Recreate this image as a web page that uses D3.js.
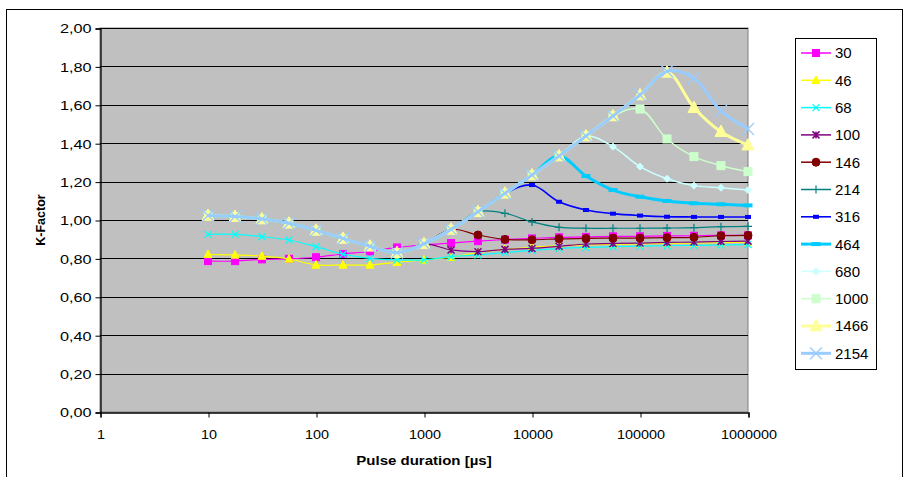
<!DOCTYPE html>
<html><head><meta charset="utf-8">
<script src="https://cdn.jsdelivr.net/npm/d3@7"></script>
<style>
body{margin:0;background:#fff;}
text{font-family:"Liberation Sans",Arial,sans-serif;}
</style></head>
<body>
<svg id="c" width="904" height="477"></svg>
<script>
// ---- data ----
const pulseDurations = [10, 17.8, 31.6, 56.2, 100, 178, 316, 562, 1000, 1780, 3160, 5620, 10000, 17800, 31600, 56200, 100000, 178000, 316000, 562000, 1000000];
const seriesNames = ["30","46","68","100","146","214","316","464","680","1000","1466","2154"];
const k30   = [0.786,0.786,0.795,0.798,0.806,0.823,0.836,0.857,0.870,0.880,0.890,0.898,0.904,0.910,0.912,0.915,0.915,0.917,0.918,0.920,0.920];
const k46   = [0.821,0.818,0.812,0.797,0.766,0.766,0.766,0.780,0.792,0.806,0.830,0.847,0.858,0.865,0.870,0.873,0.876,0.878,0.880,0.882,0.885];
const k68   = [0.925,0.925,0.913,0.896,0.861,0.822,0.800,0.792,0.792,0.809,0.818,0.830,0.842,0.851,0.857,0.861,0.864,0.866,0.868,0.870,0.872];
const k100  = [1.023,1.018,1.005,0.983,0.946,0.904,0.863,0.830,0.876,0.844,0.835,0.847,0.852,0.863,0.875,0.878,0.880,0.883,0.885,0.888,0.890];
const k146  = [1.023,1.018,1.005,0.983,0.946,0.904,0.863,0.830,0.876,0.951,0.922,0.899,0.897,0.902,0.904,0.906,0.906,0.908,0.910,0.918,0.920];
const k214  = [1.023,1.018,1.005,0.983,0.946,0.904,0.863,0.830,0.876,0.951,1.043,1.035,0.990,0.962,0.957,0.957,0.957,0.958,0.960,0.965,0.967];
const k316  = [1.023,1.018,1.005,0.983,0.946,0.904,0.863,0.830,0.876,0.951,1.043,1.139,1.182,1.095,1.052,1.033,1.023,1.017,1.016,1.016,1.016];
const k464  = [1.023,1.018,1.005,0.983,0.946,0.904,0.863,0.830,0.876,0.951,1.043,1.139,1.234,1.333,1.229,1.156,1.121,1.099,1.087,1.082,1.076];
const k680  = [1.023,1.018,1.005,0.983,0.946,0.904,0.863,0.830,0.876,0.951,1.043,1.139,1.234,1.333,1.4375,1.382,1.278,1.215,1.179,1.168,1.156];
const k1000 = [1.023,1.018,1.005,0.983,0.946,0.904,0.863,0.830,0.876,0.951,1.043,1.139,1.234,1.333,1.4375,1.542,1.578,1.422,1.330,1.283,1.252];
const k1466 = [1.023,1.018,1.005,0.983,0.946,0.904,0.863,0.830,0.876,0.951,1.043,1.139,1.234,1.333,1.4375,1.542,1.651,1.769,1.585,1.460,1.390];
const k2154 = [1.023,1.018,1.005,0.983,0.946,0.904,0.863,0.830,0.876,0.951,1.043,1.139,1.234,1.333,1.4375,1.542,1.651,1.775,1.738,1.568,1.474];
const xTickValues = [1,10,100,1000,10000,100000,1000000];
const yTickValues = [0,0.2,0.4,0.6,0.8,1.0,1.2,1.4,1.6,1.8,2.0];

const seriesValues = [k30,k46,k68,k100,k146,k214,k316,k464,k680,k1000,k1466,k2154];

// ---- styles ----
const styles = [
  {color:"#FF00FF", lw:1.2, mk:"square", ms:7},
  {color:"#FFFF00", lw:1.2, mk:"triangle", ms:8},
  {color:"#00FFFF", lw:1.2, mk:"x", ms:7},
  {color:"#800080", lw:1.2, mk:"star", ms:7},
  {color:"#800000", lw:1.2, mk:"circle", ms:8},
  {color:"#008080", lw:1.2, mk:"plus", ms:8},
  {color:"#0000FF", lw:1.6, mk:"dash", ms:6},
  {color:"#00CCFF", lw:3, mk:"dash", ms:9},
  {color:"#CCFFFF", lw:1.5, mk:"diamond", ms:7},
  {color:"#CCFFCC", lw:1.5, mk:"square", ms:8},
  {color:"#FFFF99", lw:3, mk:"triangle", ms:12},
  {color:"#99CCFF", lw:3, mk:"x", ms:12}
];

const svg = d3.select("#c");
const L=100, R=748, T=28, B=412;
const x = d3.scaleLog().domain([1,1000000]).range([L,R]);
const y = d3.scaleLinear().domain([0,2]).range([B,T]);

// outer chart border
svg.append("rect").attr("x",6.5).attr("y",9.5).attr("width",896).attr("height",480)
  .attr("fill","#fff").attr("stroke","#000").attr("stroke-width",1);

// plot area
svg.append("rect").attr("x",L).attr("y",T).attr("width",R-L).attr("height",B-T)
  .attr("fill","#C0C0C0").attr("stroke","#808080").attr("stroke-width",1);

// gridlines
svg.append("g").selectAll("line").data(yTickValues.filter(v=>v>0)).join("line")
  .attr("x1",L).attr("x2",R).attr("y1",d=>Math.round(y(d))+0.5).attr("y2",d=>Math.round(y(d))+0.5)
  .attr("stroke","#000").attr("stroke-width",1);

// axes
const yAxis = d3.axisLeft(y).tickValues(yTickValues).tickSize(5).tickFormat(d=>d3.format(".2f")(d).replace(".",","));
const gy = svg.append("g").attr("transform",`translate(${L+0.5},0.5)`).call(yAxis);
gy.select(".domain").attr("stroke","#000").attr("stroke-width",1.3);
gy.selectAll(".tick line").attr("stroke","#000");
gy.selectAll(".tick text").attr("font-size",12.5).attr("fill","#000").attr("x",null)
  .attr("transform","translate(-9,0) scale(1.3,1)").attr("dy","0.35em");

const xAxis = d3.axisBottom(x).tickValues(xTickValues).tickSize(5).tickFormat(d3.format("d"));
const gx = svg.append("g").attr("transform",`translate(0.5,${B+0.5})`).call(xAxis);
gx.select(".domain").attr("stroke","#000").attr("stroke-width",1.3);
gx.selectAll(".tick line").attr("stroke","#000");
gx.selectAll(".tick text").attr("font-size",12).attr("fill","#000").attr("y",null).attr("dy",null)
  .attr("transform","translate(0,26) scale(1.2,1)");

// axis titles
svg.append("text").attr("transform",`translate(${(L+R)/2},465) scale(1.25,1)`)
  .attr("text-anchor","middle").attr("font-size",12).attr("font-weight","bold").text("Pulse duration [µs]");
svg.append("text").attr("transform",`translate(45,${(T+B)/2}) rotate(-90)`)
  .attr("text-anchor","middle").attr("font-size",12.5).attr("font-weight","bold").text("K-Factor");

// marker drawing
function drawMarker(g, type, size, color){
  const h=size/2;
  if(type==="square"){ g.append("rect").attr("x",-h).attr("y",-h).attr("width",size).attr("height",size).attr("fill",color).attr("stroke",color); }
  else if(type==="triangle"){ g.append("path").attr("d",`M0,${-h*1.1}L${h},${h*0.8}L${-h},${h*0.8}Z`).attr("fill",color).attr("stroke",color); }
  else if(type==="x"){ g.append("path").attr("d",`M${-h},${-h}L${h},${h}M${-h},${h}L${h},${-h}`).attr("stroke",color).attr("stroke-width",1.3).attr("fill","none"); }
  else if(type==="star"){ g.append("path").attr("d",`M${-h},${-h}L${h},${h}M${-h},${h}L${h},${-h}M0,${-h}L0,${h}`).attr("stroke",color).attr("stroke-width",1.5).attr("fill","none"); }
  else if(type==="circle"){ g.append("circle").attr("r",h).attr("fill",color).attr("stroke",color); }
  else if(type==="plus"){ g.append("path").attr("d",`M${-h},0L${h},0M0,${-h}L0,${h}`).attr("stroke",color).attr("stroke-width",1.2).attr("fill","none"); }
  else if(type==="dash"){ g.append("rect").attr("x",-h).attr("y",-2).attr("width",size).attr("height",4).attr("fill",color); }
  else if(type==="diamond"){ g.append("path").attr("d",`M0,${-h}L${h},0L0,${h}L${-h},0Z`).attr("fill",color).attr("stroke",color); }
}

const line = d3.line().x(d=>x(d[0])).y(d=>y(d[1])).curve(d3.curveCatmullRom.alpha(0.5));

seriesValues.forEach((vals,i)=>{
  const st=styles[i];
  const pts = pulseDurations.map((p,j)=>[p,vals[j]]);
  const g = svg.append("g");
  g.append("path").attr("d",line(pts)).attr("fill","none").attr("stroke",st.color).attr("stroke-width",st.lw);
  pts.forEach(p=>{
    const m = g.append("g").attr("transform",`translate(${x(p[0])},${y(p[1])})`);
    drawMarker(m, st.mk, st.ms, st.color);
  });
});

// legend
const lg = svg.append("g");
lg.append("rect").attr("x",795.5).attr("y",38.5).attr("width",81).attr("height",331)
  .attr("fill","#fff").attr("stroke","#000").attr("stroke-width",1);
seriesNames.forEach((n,i)=>{
  const st=styles[i];
  const yy = 53 + i*27.3;
  lg.append("line").attr("x1",801).attr("x2",831).attr("y1",yy).attr("y2",yy)
    .attr("stroke",st.color).attr("stroke-width",Math.max(st.lw,1.5));
  const m = lg.append("g").attr("transform",`translate(816,${yy})`);
  drawMarker(m, st.mk, st.ms, st.color);
  lg.append("text").attr("x",835).attr("y",yy).attr("dy","0.36em").attr("font-size",15).text(n);
});
</script>
</body></html>
